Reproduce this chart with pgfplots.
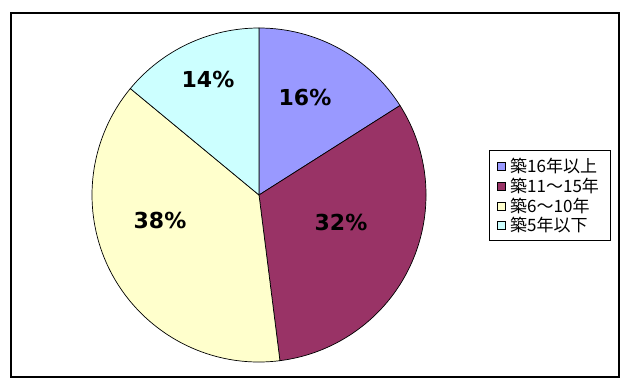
\documentclass[border=0pt]{standalone}
\usepackage{pgfplots}
\pgfplotsset{compat=1.18}
\usepackage{pgfplotstable}
\usepackage{fontspec}
\setmainfont{DejaVu Sans}
\newfontfamily\jp{Noto Sans CJK JP}
\definecolor{cA}{HTML}{9999FF}
\definecolor{cB}{HTML}{993366}
\definecolor{cC}{HTML}{FFFFCC}
\definecolor{cD}{HTML}{CCFFFF}
\pgfplotstableread{
value color lx ly ry
16 cA 305 97 166
32 cB 341 222 186
38 cC 160 220 206
14 cD 208 79 225.5
}\piedata
\begin{document}
\begin{tikzpicture}
\begin{axis}[
  x={(1pt,0)}, y={(0,-1pt)},
  xmin=0, xmax=629, ymin=0, ymax=390,
  hide axis, clip=false,
]
\fill[white] (axis cs:0,0) rectangle (axis cs:629,390);
\draw[black, line width=1.4pt] (axis cs:11,13) rectangle (axis cs:619,377);
\xdef\cum{0}
\pgfplotsinvokeforeach{0,1,2,3}{
  \pgfplotstablegetelem{#1}{value}\of\piedata \let\val\pgfplotsretval
  \pgfplotstablegetelem{#1}{color}\of\piedata \let\col\pgfplotsretval
  \pgfplotstablegetelem{#1}{lx}\of\piedata \let\lx\pgfplotsretval
  \pgfplotstablegetelem{#1}{ly}\of\piedata \let\ly\pgfplotsretval
  \pgfmathsetmacro\sa{90-3.6*\cum}
  \pgfmathsetmacro\ea{90-3.6*(\cum+\val)}
  \edef\tmp{\noexpand\filldraw[fill=\col, draw=black, line width=0.7pt] (axis cs:259,195) -- ++(\sa:167pt) arc[start angle=\sa, end angle=\ea, radius=167pt] -- cycle;
    \noexpand\node[font=\noexpand\bfseries\noexpand\fontsize{22}{26}\noexpand\selectfont, text=black] at (axis cs:\lx,\ly) {\val\noexpand\%};}
  \tmp
  \pgfmathsetmacro\nc{\cum+\val}
  \xdef\cum{\nc}
}
% legend
\draw[black, line width=0.8pt] (axis cs:489,150) rectangle (axis cs:610,240);
\pgfplotsinvokeforeach{0,1,2,3}{
  \pgfplotstablegetelem{#1}{color}\of\piedata \let\col\pgfplotsretval
  \pgfplotstablegetelem{#1}{ry}\of\piedata \let\ry\pgfplotsretval
  \edef\tmp{\noexpand\filldraw[fill=\col, draw=black, line width=0.6pt] (axis cs:497,\ry-4) rectangle (axis cs:505,\ry+4);}
  \tmp
}
\node[anchor=west, inner sep=0pt, font=\jp\fontsize{17}{20}\selectfont] at (axis cs:510,166) {築16年以上};
\node[anchor=west, inner sep=0pt, font=\jp\fontsize{17}{20}\selectfont] at (axis cs:510,186) {築11～15年};
\node[anchor=west, inner sep=0pt, font=\jp\fontsize{17}{20}\selectfont] at (axis cs:510,206) {築6～10年};
\node[anchor=west, inner sep=0pt, font=\jp\fontsize{17}{20}\selectfont] at (axis cs:510,225.5) {築5年以下};
\end{axis}
\end{tikzpicture}
\end{document}
